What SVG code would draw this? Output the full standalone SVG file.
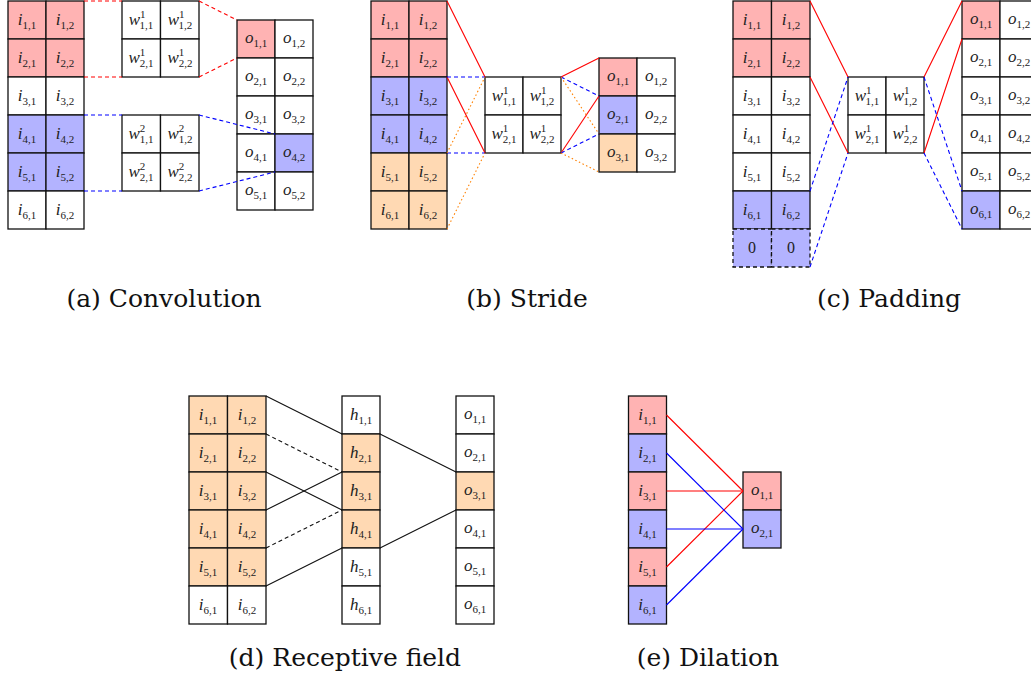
<svg xmlns="http://www.w3.org/2000/svg" width="1031" height="676" viewBox="0 0 1031 676">
<style>
.c{stroke:#111;stroke-width:1.3;fill:#fff}
.r{fill:#ffb3b3}.b{fill:#b3b3ff}.o{fill:#ffd9b3}
.pd{stroke-dasharray:4,3}
text{font-family:"Liberation Serif","DejaVu Serif",serif;fill:#222;text-anchor:middle}
.t{font-size:17px;font-style:italic}
.s{font-size:11px;font-style:normal}
.cap{font-family:"DejaVu Serif","Liberation Serif",serif;font-size:25px;fill:#111;font-style:normal}
.ln{fill:none;stroke-width:1.1}
.lr{stroke:#f00}.lb{stroke:#00f}.lk{stroke:#111}.lo{stroke:#ff8000}
.da{stroke-dasharray:4,3}.dt{stroke-dasharray:1.5,2.5}
</style>
<rect width="1031" height="676" fill="#fff"/>

<!-- (a) Convolution -->
<g id="a-input">
<g id="a-i11"><rect class="c r" x="8" y="1" width="38" height="38"/><text class="t" x="27" y="25">i<tspan class="s" dy="4">1,1</tspan></text></g>
<g id="a-i12"><rect class="c r" x="46" y="1" width="38" height="38"/><text class="t" x="65" y="25">i<tspan class="s" dy="4">1,2</tspan></text></g>
<g id="a-i21"><rect class="c r" x="8" y="39" width="38" height="38"/><text class="t" x="27" y="63">i<tspan class="s" dy="4">2,1</tspan></text></g>
<g id="a-i22"><rect class="c r" x="46" y="39" width="38" height="38"/><text class="t" x="65" y="63">i<tspan class="s" dy="4">2,2</tspan></text></g>
<g id="a-i31"><rect class="c" x="8" y="77" width="38" height="38"/><text class="t" x="27" y="101">i<tspan class="s" dy="4">3,1</tspan></text></g>
<g id="a-i32"><rect class="c" x="46" y="77" width="38" height="38"/><text class="t" x="65" y="101">i<tspan class="s" dy="4">3,2</tspan></text></g>
<g id="a-i41"><rect class="c b" x="8" y="115" width="38" height="38"/><text class="t" x="27" y="139">i<tspan class="s" dy="4">4,1</tspan></text></g>
<g id="a-i42"><rect class="c b" x="46" y="115" width="38" height="38"/><text class="t" x="65" y="139">i<tspan class="s" dy="4">4,2</tspan></text></g>
<g id="a-i51"><rect class="c b" x="8" y="153" width="38" height="38"/><text class="t" x="27" y="177">i<tspan class="s" dy="4">5,1</tspan></text></g>
<g id="a-i52"><rect class="c b" x="46" y="153" width="38" height="38"/><text class="t" x="65" y="177">i<tspan class="s" dy="4">5,2</tspan></text></g>
<g id="a-i61"><rect class="c" x="8" y="191" width="38" height="38"/><text class="t" x="27" y="215">i<tspan class="s" dy="4">6,1</tspan></text></g>
<g id="a-i62"><rect class="c" x="46" y="191" width="38" height="38"/><text class="t" x="65" y="215">i<tspan class="s" dy="4">6,2</tspan></text></g>
</g>
<g id="a-w1">
<g id="a-w1-11"><rect class="c" x="122" y="1" width="38.5" height="38"/><text class="t" x="141" y="25">w<tspan class="s" dy="-7">1</tspan><tspan class="s" dx="-5.5" dy="11">1,1</tspan></text></g>
<g id="a-w1-12"><rect class="c" x="160.5" y="1" width="38.5" height="38"/><text class="t" x="180" y="25">w<tspan class="s" dy="-7">1</tspan><tspan class="s" dx="-5.5" dy="11">1,2</tspan></text></g>
<g id="a-w1-21"><rect class="c" x="122" y="39" width="38.5" height="38"/><text class="t" x="141" y="63">w<tspan class="s" dy="-7">1</tspan><tspan class="s" dx="-5.5" dy="11">2,1</tspan></text></g>
<g id="a-w1-22"><rect class="c" x="160.5" y="39" width="38.5" height="38"/><text class="t" x="180" y="63">w<tspan class="s" dy="-7">1</tspan><tspan class="s" dx="-5.5" dy="11">2,2</tspan></text></g>
</g>
<g id="a-w2">
<g id="a-w2-11"><rect class="c" x="122" y="115" width="38.5" height="38"/><text class="t" x="141" y="139">w<tspan class="s" dy="-7">2</tspan><tspan class="s" dx="-5.5" dy="11">1,1</tspan></text></g>
<g id="a-w2-12"><rect class="c" x="160.5" y="115" width="38.5" height="38"/><text class="t" x="180" y="139">w<tspan class="s" dy="-7">2</tspan><tspan class="s" dx="-5.5" dy="11">1,2</tspan></text></g>
<g id="a-w2-21"><rect class="c" x="122" y="153" width="38.5" height="38"/><text class="t" x="141" y="177">w<tspan class="s" dy="-7">2</tspan><tspan class="s" dx="-5.5" dy="11">2,1</tspan></text></g>
<g id="a-w2-22"><rect class="c" x="160.5" y="153" width="38.5" height="38"/><text class="t" x="180" y="177">w<tspan class="s" dy="-7">2</tspan><tspan class="s" dx="-5.5" dy="11">2,2</tspan></text></g>
</g>
<g id="a-output">
<g id="a-o11"><rect class="c r" x="237" y="20" width="38" height="38"/><text class="t" x="256" y="43">o<tspan class="s" dy="4">1,1</tspan></text></g>
<g id="a-o12"><rect class="c" x="275" y="20" width="38" height="38"/><text class="t" x="294" y="43">o<tspan class="s" dy="4">1,2</tspan></text></g>
<g id="a-o21"><rect class="c" x="237" y="58" width="38" height="38"/><text class="t" x="256" y="81">o<tspan class="s" dy="4">2,1</tspan></text></g>
<g id="a-o22"><rect class="c" x="275" y="58" width="38" height="38"/><text class="t" x="294" y="81">o<tspan class="s" dy="4">2,2</tspan></text></g>
<g id="a-o31"><rect class="c" x="237" y="96" width="38" height="38"/><text class="t" x="256" y="119">o<tspan class="s" dy="4">3,1</tspan></text></g>
<g id="a-o32"><rect class="c" x="275" y="96" width="38" height="38"/><text class="t" x="294" y="119">o<tspan class="s" dy="4">3,2</tspan></text></g>
<g id="a-o41"><rect class="c" x="237" y="134" width="38" height="38"/><text class="t" x="256" y="157">o<tspan class="s" dy="4">4,1</tspan></text></g>
<g id="a-o42"><rect class="c b" x="275" y="134" width="38" height="38"/><text class="t" x="294" y="157">o<tspan class="s" dy="4">4,2</tspan></text></g>
<g id="a-o51"><rect class="c" x="237" y="172" width="38" height="38"/><text class="t" x="256" y="195">o<tspan class="s" dy="4">5,1</tspan></text></g>
<g id="a-o52"><rect class="c" x="275" y="172" width="38" height="38"/><text class="t" x="294" y="195">o<tspan class="s" dy="4">5,2</tspan></text></g>
</g>

<!-- (b) Stride -->
<g id="b-input">
<g id="b-i11"><rect class="c r" x="371" y="1" width="38" height="38"/><text class="t" x="390" y="25">i<tspan class="s" dy="4">1,1</tspan></text></g>
<g id="b-i12"><rect class="c r" x="409" y="1" width="38" height="38"/><text class="t" x="428" y="25">i<tspan class="s" dy="4">1,2</tspan></text></g>
<g id="b-i21"><rect class="c r" x="371" y="39" width="38" height="38"/><text class="t" x="390" y="63">i<tspan class="s" dy="4">2,1</tspan></text></g>
<g id="b-i22"><rect class="c r" x="409" y="39" width="38" height="38"/><text class="t" x="428" y="63">i<tspan class="s" dy="4">2,2</tspan></text></g>
<g id="b-i31"><rect class="c b" x="371" y="77" width="38" height="38"/><text class="t" x="390" y="101">i<tspan class="s" dy="4">3,1</tspan></text></g>
<g id="b-i32"><rect class="c b" x="409" y="77" width="38" height="38"/><text class="t" x="428" y="101">i<tspan class="s" dy="4">3,2</tspan></text></g>
<g id="b-i41"><rect class="c b" x="371" y="115" width="38" height="38"/><text class="t" x="390" y="139">i<tspan class="s" dy="4">4,1</tspan></text></g>
<g id="b-i42"><rect class="c b" x="409" y="115" width="38" height="38"/><text class="t" x="428" y="139">i<tspan class="s" dy="4">4,2</tspan></text></g>
<g id="b-i51"><rect class="c o" x="371" y="153" width="38" height="38"/><text class="t" x="390" y="177">i<tspan class="s" dy="4">5,1</tspan></text></g>
<g id="b-i52"><rect class="c o" x="409" y="153" width="38" height="38"/><text class="t" x="428" y="177">i<tspan class="s" dy="4">5,2</tspan></text></g>
<g id="b-i61"><rect class="c o" x="371" y="191" width="38" height="38"/><text class="t" x="390" y="215">i<tspan class="s" dy="4">6,1</tspan></text></g>
<g id="b-i62"><rect class="c o" x="409" y="191" width="38" height="38"/><text class="t" x="428" y="215">i<tspan class="s" dy="4">6,2</tspan></text></g>
</g>
<g id="b-w">
<g id="b-w11"><rect class="c" x="485" y="77" width="38" height="38"/><text class="t" x="504" y="101">w<tspan class="s" dy="-7">1</tspan><tspan class="s" dx="-5.5" dy="11">1,1</tspan></text></g>
<g id="b-w12"><rect class="c" x="523" y="77" width="38" height="38"/><text class="t" x="542" y="101">w<tspan class="s" dy="-7">1</tspan><tspan class="s" dx="-5.5" dy="11">1,2</tspan></text></g>
<g id="b-w21"><rect class="c" x="485" y="115" width="38" height="38"/><text class="t" x="504" y="139">w<tspan class="s" dy="-7">1</tspan><tspan class="s" dx="-5.5" dy="11">2,1</tspan></text></g>
<g id="b-w22"><rect class="c" x="523" y="115" width="38" height="38"/><text class="t" x="542" y="139">w<tspan class="s" dy="-7">1</tspan><tspan class="s" dx="-5.5" dy="11">2,2</tspan></text></g>
</g>
<g id="b-output">
<g id="b-o11"><rect class="c r" x="599" y="58" width="38" height="38"/><text class="t" x="618" y="81">o<tspan class="s" dy="4">1,1</tspan></text></g>
<g id="b-o12"><rect class="c" x="637" y="58" width="38" height="38"/><text class="t" x="656" y="81">o<tspan class="s" dy="4">1,2</tspan></text></g>
<g id="b-o21"><rect class="c b" x="599" y="96" width="38" height="38"/><text class="t" x="618" y="119">o<tspan class="s" dy="4">2,1</tspan></text></g>
<g id="b-o22"><rect class="c" x="637" y="96" width="38" height="38"/><text class="t" x="656" y="119">o<tspan class="s" dy="4">2,2</tspan></text></g>
<g id="b-o31"><rect class="c o" x="599" y="134" width="38" height="38"/><text class="t" x="618" y="157">o<tspan class="s" dy="4">3,1</tspan></text></g>
<g id="b-o32"><rect class="c" x="637" y="134" width="38" height="38"/><text class="t" x="656" y="157">o<tspan class="s" dy="4">3,2</tspan></text></g>
</g>

<!-- (c) Padding -->
<g id="c-input">
<g id="c-i11"><rect class="c r" x="733" y="1" width="38.5" height="38"/><text class="t" x="752" y="25">i<tspan class="s" dy="4">1,1</tspan></text></g>
<g id="c-i12"><rect class="c r" x="771.5" y="1" width="38.5" height="38"/><text class="t" x="791" y="25">i<tspan class="s" dy="4">1,2</tspan></text></g>
<g id="c-i21"><rect class="c r" x="733" y="39" width="38.5" height="38"/><text class="t" x="752" y="63">i<tspan class="s" dy="4">2,1</tspan></text></g>
<g id="c-i22"><rect class="c r" x="771.5" y="39" width="38.5" height="38"/><text class="t" x="791" y="63">i<tspan class="s" dy="4">2,2</tspan></text></g>
<g id="c-i31"><rect class="c" x="733" y="77" width="38.5" height="38"/><text class="t" x="752" y="101">i<tspan class="s" dy="4">3,1</tspan></text></g>
<g id="c-i32"><rect class="c" x="771.5" y="77" width="38.5" height="38"/><text class="t" x="791" y="101">i<tspan class="s" dy="4">3,2</tspan></text></g>
<g id="c-i41"><rect class="c" x="733" y="115" width="38.5" height="38"/><text class="t" x="752" y="139">i<tspan class="s" dy="4">4,1</tspan></text></g>
<g id="c-i42"><rect class="c" x="771.5" y="115" width="38.5" height="38"/><text class="t" x="791" y="139">i<tspan class="s" dy="4">4,2</tspan></text></g>
<g id="c-i51"><rect class="c" x="733" y="153" width="38.5" height="38"/><text class="t" x="752" y="177">i<tspan class="s" dy="4">5,1</tspan></text></g>
<g id="c-i52"><rect class="c" x="771.5" y="153" width="38.5" height="38"/><text class="t" x="791" y="177">i<tspan class="s" dy="4">5,2</tspan></text></g>
<g id="c-i61"><rect class="c b" x="733" y="191" width="38.5" height="38"/><text class="t" x="752" y="215">i<tspan class="s" dy="4">6,1</tspan></text></g>
<g id="c-i62"><rect class="c b" x="771.5" y="191" width="38.5" height="38"/><text class="t" x="791" y="215">i<tspan class="s" dy="4">6,2</tspan></text></g>
<g id="c-p1"><rect class="c b pd" x="733" y="229" width="38.5" height="38"/><text class="s" x="752" y="253" style="font-size:16px">0</text></g>
<g id="c-p2"><rect class="c b pd" x="771.5" y="229" width="38.5" height="38"/><text class="s" x="791" y="253" style="font-size:16px">0</text></g>
</g>
<g id="c-w">
<g id="c-w11"><rect class="c" x="848" y="77" width="38" height="38"/><text class="t" x="867" y="101">w<tspan class="s" dy="-7">1</tspan><tspan class="s" dx="-5.5" dy="11">1,1</tspan></text></g>
<g id="c-w12"><rect class="c" x="886" y="77" width="38" height="38"/><text class="t" x="905" y="101">w<tspan class="s" dy="-7">1</tspan><tspan class="s" dx="-5.5" dy="11">1,2</tspan></text></g>
<g id="c-w21"><rect class="c" x="848" y="115" width="38" height="38"/><text class="t" x="867" y="139">w<tspan class="s" dy="-7">1</tspan><tspan class="s" dx="-5.5" dy="11">2,1</tspan></text></g>
<g id="c-w22"><rect class="c" x="886" y="115" width="38" height="38"/><text class="t" x="905" y="139">w<tspan class="s" dy="-7">1</tspan><tspan class="s" dx="-5.5" dy="11">2,2</tspan></text></g>
</g>
<g id="c-output">
<g id="c-o11"><rect class="c r" x="962" y="1" width="38" height="38"/><text class="t" x="981" y="24">o<tspan class="s" dy="4">1,1</tspan></text></g>
<g id="c-o12"><rect class="c" x="1000" y="1" width="38" height="38"/><text class="t" x="1019" y="24">o<tspan class="s" dy="4">1,2</tspan></text></g>
<g id="c-o21"><rect class="c" x="962" y="39" width="38" height="38"/><text class="t" x="981" y="62">o<tspan class="s" dy="4">2,1</tspan></text></g>
<g id="c-o22"><rect class="c" x="1000" y="39" width="38" height="38"/><text class="t" x="1019" y="62">o<tspan class="s" dy="4">2,2</tspan></text></g>
<g id="c-o31"><rect class="c" x="962" y="77" width="38" height="38"/><text class="t" x="981" y="100">o<tspan class="s" dy="4">3,1</tspan></text></g>
<g id="c-o32"><rect class="c" x="1000" y="77" width="38" height="38"/><text class="t" x="1019" y="100">o<tspan class="s" dy="4">3,2</tspan></text></g>
<g id="c-o41"><rect class="c" x="962" y="115" width="38" height="38"/><text class="t" x="981" y="138">o<tspan class="s" dy="4">4,1</tspan></text></g>
<g id="c-o42"><rect class="c" x="1000" y="115" width="38" height="38"/><text class="t" x="1019" y="138">o<tspan class="s" dy="4">4,2</tspan></text></g>
<g id="c-o51"><rect class="c" x="962" y="153" width="38" height="38"/><text class="t" x="981" y="176">o<tspan class="s" dy="4">5,1</tspan></text></g>
<g id="c-o52"><rect class="c" x="1000" y="153" width="38" height="38"/><text class="t" x="1019" y="176">o<tspan class="s" dy="4">5,2</tspan></text></g>
<g id="c-o61"><rect class="c b" x="962" y="191" width="38" height="38"/><text class="t" x="981" y="214">o<tspan class="s" dy="4">6,1</tspan></text></g>
<g id="c-o62"><rect class="c" x="1000" y="191" width="38" height="38"/><text class="t" x="1019" y="214">o<tspan class="s" dy="4">6,2</tspan></text></g>
</g>

<!-- (d) Receptive field -->
<g id="d-input">
<g id="d-i11"><rect class="c o" x="189" y="396" width="38.5" height="38"/><text class="t" x="208" y="420">i<tspan class="s" dy="4">1,1</tspan></text></g>
<g id="d-i12"><rect class="c o" x="227.5" y="396" width="38.5" height="38"/><text class="t" x="247" y="420">i<tspan class="s" dy="4">1,2</tspan></text></g>
<g id="d-i21"><rect class="c o" x="189" y="434" width="38.5" height="38"/><text class="t" x="208" y="458">i<tspan class="s" dy="4">2,1</tspan></text></g>
<g id="d-i22"><rect class="c o" x="227.5" y="434" width="38.5" height="38"/><text class="t" x="247" y="458">i<tspan class="s" dy="4">2,2</tspan></text></g>
<g id="d-i31"><rect class="c o" x="189" y="472" width="38.5" height="38"/><text class="t" x="208" y="496">i<tspan class="s" dy="4">3,1</tspan></text></g>
<g id="d-i32"><rect class="c o" x="227.5" y="472" width="38.5" height="38"/><text class="t" x="247" y="496">i<tspan class="s" dy="4">3,2</tspan></text></g>
<g id="d-i41"><rect class="c o" x="189" y="510" width="38.5" height="38"/><text class="t" x="208" y="534">i<tspan class="s" dy="4">4,1</tspan></text></g>
<g id="d-i42"><rect class="c o" x="227.5" y="510" width="38.5" height="38"/><text class="t" x="247" y="534">i<tspan class="s" dy="4">4,2</tspan></text></g>
<g id="d-i51"><rect class="c o" x="189" y="548" width="38.5" height="38"/><text class="t" x="208" y="572">i<tspan class="s" dy="4">5,1</tspan></text></g>
<g id="d-i52"><rect class="c o" x="227.5" y="548" width="38.5" height="38"/><text class="t" x="247" y="572">i<tspan class="s" dy="4">5,2</tspan></text></g>
<g id="d-i61"><rect class="c" x="189" y="586" width="38.5" height="38"/><text class="t" x="208" y="610">i<tspan class="s" dy="4">6,1</tspan></text></g>
<g id="d-i62"><rect class="c" x="227.5" y="586" width="38.5" height="38"/><text class="t" x="247" y="610">i<tspan class="s" dy="4">6,2</tspan></text></g>
</g>
<g id="d-hidden">
<g id="d-h1"><rect class="c" x="342" y="396" width="38" height="38"/><text class="t" x="361" y="420">h<tspan class="s" dy="4">1,1</tspan></text></g>
<g id="d-h2"><rect class="c o" x="342" y="434" width="38" height="38"/><text class="t" x="361" y="458">h<tspan class="s" dy="4">2,1</tspan></text></g>
<g id="d-h3"><rect class="c o" x="342" y="472" width="38" height="38"/><text class="t" x="361" y="496">h<tspan class="s" dy="4">3,1</tspan></text></g>
<g id="d-h4"><rect class="c o" x="342" y="510" width="38" height="38"/><text class="t" x="361" y="534">h<tspan class="s" dy="4">4,1</tspan></text></g>
<g id="d-h5"><rect class="c" x="342" y="548" width="38" height="38"/><text class="t" x="361" y="572">h<tspan class="s" dy="4">5,1</tspan></text></g>
<g id="d-h6"><rect class="c" x="342" y="586" width="38" height="38"/><text class="t" x="361" y="610">h<tspan class="s" dy="4">6,1</tspan></text></g>
</g>
<g id="d-output">
<g id="d-o1"><rect class="c" x="456" y="396" width="38" height="38"/><text class="t" x="475" y="419">o<tspan class="s" dy="4">1,1</tspan></text></g>
<g id="d-o2"><rect class="c" x="456" y="434" width="38" height="38"/><text class="t" x="475" y="457">o<tspan class="s" dy="4">2,1</tspan></text></g>
<g id="d-o3"><rect class="c o" x="456" y="472" width="38" height="38"/><text class="t" x="475" y="495">o<tspan class="s" dy="4">3,1</tspan></text></g>
<g id="d-o4"><rect class="c" x="456" y="510" width="38" height="38"/><text class="t" x="475" y="533">o<tspan class="s" dy="4">4,1</tspan></text></g>
<g id="d-o5"><rect class="c" x="456" y="548" width="38" height="38"/><text class="t" x="475" y="571">o<tspan class="s" dy="4">5,1</tspan></text></g>
<g id="d-o6"><rect class="c" x="456" y="586" width="38" height="38"/><text class="t" x="475" y="609">o<tspan class="s" dy="4">6,1</tspan></text></g>
</g>

<!-- (e) Dilation -->
<g id="e-input">
<g id="e-i1"><rect class="c r" x="628.5" y="396" width="38" height="38"/><text class="t" x="647.5" y="420">i<tspan class="s" dy="4">1,1</tspan></text></g>
<g id="e-i2"><rect class="c b" x="628.5" y="434" width="38" height="38"/><text class="t" x="647.5" y="458">i<tspan class="s" dy="4">2,1</tspan></text></g>
<g id="e-i3"><rect class="c r" x="628.5" y="472" width="38" height="38"/><text class="t" x="647.5" y="496">i<tspan class="s" dy="4">3,1</tspan></text></g>
<g id="e-i4"><rect class="c b" x="628.5" y="510" width="38" height="38"/><text class="t" x="647.5" y="534">i<tspan class="s" dy="4">4,1</tspan></text></g>
<g id="e-i5"><rect class="c r" x="628.5" y="548" width="38" height="38"/><text class="t" x="647.5" y="572">i<tspan class="s" dy="4">5,1</tspan></text></g>
<g id="e-i6"><rect class="c b" x="628.5" y="586" width="38" height="38"/><text class="t" x="647.5" y="610">i<tspan class="s" dy="4">6,1</tspan></text></g>
</g>
<g id="e-output">
<g id="e-o1"><rect class="c r" x="743" y="472" width="38" height="38"/><text class="t" x="762" y="495">o<tspan class="s" dy="4">1,1</tspan></text></g>
<g id="e-o2"><rect class="c b" x="743" y="510" width="38" height="38"/><text class="t" x="762" y="533">o<tspan class="s" dy="4">2,1</tspan></text></g>
</g>

<g id="connectors">
<!-- a -->
<line class="ln lr da" x1="84" y1="1" x2="122" y2="1"/>
<line class="ln lr da" x1="84" y1="77" x2="122" y2="77"/>
<line class="ln lr da" x1="199" y1="1" x2="237" y2="20"/>
<line class="ln lr da" x1="199" y1="77" x2="237" y2="58"/>
<line class="ln lb da" x1="84" y1="115" x2="122" y2="115"/>
<line class="ln lb da" x1="84" y1="191" x2="122" y2="191"/>
<line class="ln lb da" x1="199" y1="115" x2="275" y2="134"/>
<line class="ln lb da" x1="199" y1="191" x2="275" y2="172"/>
<!-- b -->
<line class="ln lr" x1="447" y1="1" x2="485" y2="77"/>
<line class="ln lr" x1="447" y1="77" x2="485" y2="153"/>
<line class="ln lb da" x1="447" y1="77" x2="485" y2="77"/>
<line class="ln lb da" x1="447" y1="153" x2="485" y2="153"/>
<line class="ln lo dt" x1="447" y1="153" x2="485" y2="77"/>
<line class="ln lo dt" x1="447" y1="229" x2="485" y2="153"/>
<line class="ln lr" x1="561" y1="77" x2="599" y2="58"/>
<line class="ln lr" x1="561" y1="153" x2="599" y2="96"/>
<line class="ln lb da" x1="561" y1="77" x2="599" y2="96"/>
<line class="ln lb da" x1="561" y1="153" x2="599" y2="134"/>
<line class="ln lo dt" x1="561" y1="77" x2="599" y2="134"/>
<line class="ln lo dt" x1="561" y1="153" x2="599" y2="172"/>
<!-- c -->
<line class="ln lr" x1="810" y1="1" x2="848" y2="77"/>
<line class="ln lr" x1="810" y1="77" x2="848" y2="153"/>
<line class="ln lb da" x1="810" y1="191" x2="848" y2="77"/>
<line class="ln lb da" x1="810" y1="267" x2="848" y2="153"/>
<line class="ln lr" x1="924" y1="77" x2="962" y2="1"/>
<line class="ln lr" x1="924" y1="153" x2="962" y2="39"/>
<line class="ln lb da" x1="924" y1="77" x2="962" y2="191"/>
<line class="ln lb da" x1="924" y1="153" x2="962" y2="229"/>
<!-- d -->
<line class="ln lk" x1="266" y1="396" x2="342" y2="434"/>
<line class="ln lk da" x1="266" y1="434" x2="342" y2="472"/>
<line class="ln lk" x1="266" y1="472" x2="342" y2="510"/>
<line class="ln lk" x1="266" y1="510" x2="342" y2="472"/>
<line class="ln lk da" x1="266" y1="548" x2="342" y2="510"/>
<line class="ln lk" x1="266" y1="586" x2="342" y2="548"/>
<line class="ln lk" x1="380" y1="434" x2="456" y2="472"/>
<line class="ln lk" x1="380" y1="548" x2="456" y2="510"/>
<!-- e -->
<line class="ln lr" x1="666.5" y1="415" x2="743" y2="491"/>
<line class="ln lr" x1="666.5" y1="491" x2="743" y2="491"/>
<line class="ln lr" x1="666.5" y1="567" x2="743" y2="491"/>
<line class="ln lb" x1="666.5" y1="453" x2="743" y2="529"/>
<line class="ln lb" x1="666.5" y1="529" x2="743" y2="529"/>
<line class="ln lb" x1="666.5" y1="605" x2="743" y2="529"/>
</g>

<g id="captions">
<text class="cap" x="164" y="307">(a) Convolution</text>
<text class="cap" x="527" y="307">(b) Stride</text>
<text class="cap" x="889" y="307">(c) Padding</text>
<text class="cap" x="345" y="666">(d) Receptive field</text>
<text class="cap" x="708" y="666">(e) Dilation</text>
</g>
</svg>
